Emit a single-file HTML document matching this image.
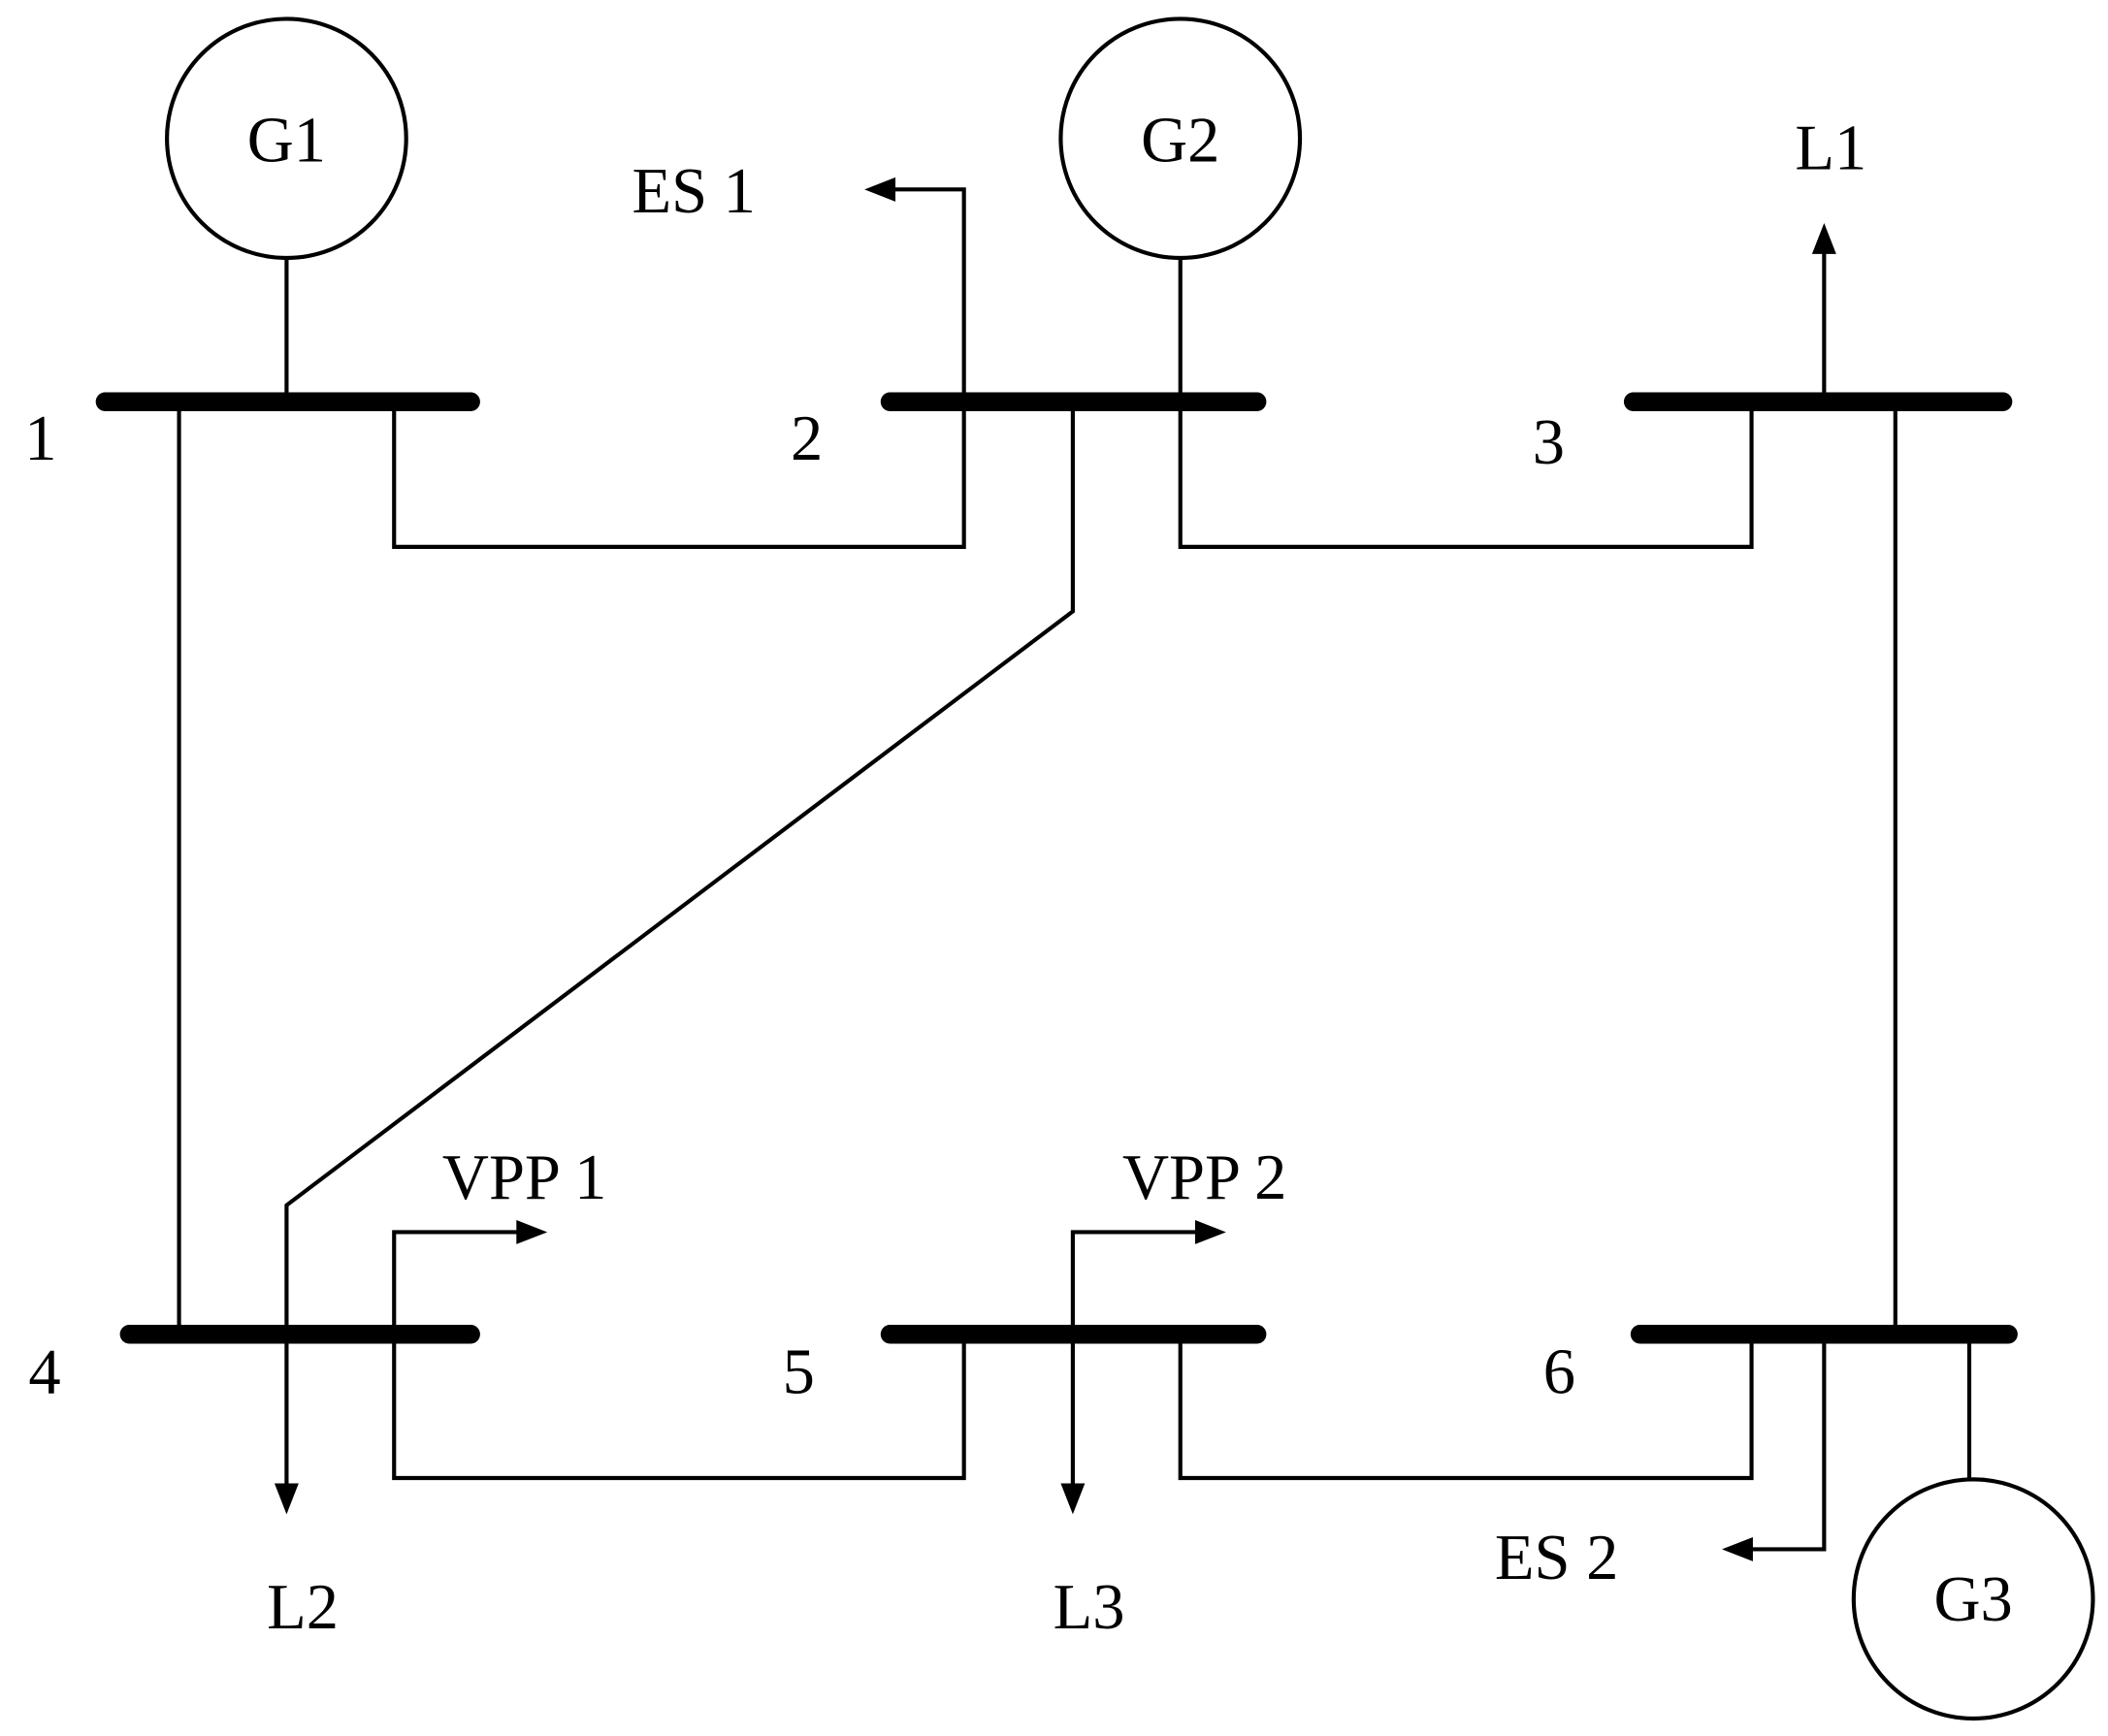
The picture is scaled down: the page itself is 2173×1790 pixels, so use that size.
<!DOCTYPE html>
<html><head><meta charset="utf-8"><style>html,body{margin:0;padding:0;background:#fff}svg{display:block}</style></head>
<body>
<svg width="2173" height="1790" viewBox="0 0 1568 1292" xmlns="http://www.w3.org/2000/svg">
<g stroke="#000" stroke-width="14" stroke-linecap="round">
<line x1="78" y1="299" x2="350" y2="299"/>
<line x1="662" y1="299" x2="935" y2="299"/>
<line x1="1215" y1="299" x2="1490" y2="299"/>
<line x1="96" y1="993" x2="350" y2="993"/>
<line x1="662" y1="993" x2="935" y2="993"/>
<line x1="1220" y1="993" x2="1494" y2="993"/>
</g>
<g stroke="#000" stroke-width="3" fill="none">
<circle cx="213" cy="103" r="89"/>
<circle cx="878" cy="103" r="89"/>
<circle cx="1468" cy="1190" r="89"/>
<line x1="213" y1="192" x2="213" y2="299"/>
<polyline points="878,192 878,407 1303,407 1303,299"/>
<polyline points="293,299 293,407 717,407 717,141 660,141"/>
<line x1="133" y1="299" x2="133" y2="993"/>
<polyline points="798,299 798,455 213,897 213,1110"/>
<line x1="1357" y1="299" x2="1357" y2="183"/>
<line x1="1410" y1="299" x2="1410" y2="993"/>
<polyline points="293,993 293,917 390,917"/>
<polyline points="798,1110 798,917 895,917"/>
<polyline points="293,993 293,1100 717,1100 717,993"/>
<polyline points="878,993 878,1100 1303,1100 1303,993"/>
<polyline points="1357,993 1357,1153 1298,1153"/>
<line x1="1465" y1="993" x2="1465" y2="1101"/>
</g>
<g fill="#000">
<polygon points="643,141 666,132 666,150"/>
<polygon points="1357,166 1348,189 1366,189"/>
<polygon points="407,917 384,908 384,926"/>
<polygon points="912,917 889,908 889,926"/>
<polygon points="213,1127 204,1104 222,1104"/>
<polygon points="798,1127 789,1104 807,1104"/>
<polygon points="1281,1153 1304,1144 1304,1162"/>
</g>
<g font-family="Liberation Serif, serif" font-size="48" text-anchor="middle">
<text x="213" y="120">G1</text>
<text x="878" y="120">G2</text>
<text x="1468" y="1206">G3</text>
<text x="516" y="158">ES 1</text>
<text x="1362" y="126">L1</text>
<text x="30" y="342">1</text>
<text x="600" y="342">2</text>
<text x="1152" y="345">3</text>
<text x="33" y="1037">4</text>
<text x="594" y="1037">5</text>
<text x="1160" y="1037">6</text>
<text x="390" y="892">VPP 1</text>
<text x="896" y="892">VPP 2</text>
<text x="225" y="1212">L2</text>
<text x="810" y="1212">L3</text>
<text x="1158" y="1175">ES 2</text>
</g>
</svg>
</body></html>
